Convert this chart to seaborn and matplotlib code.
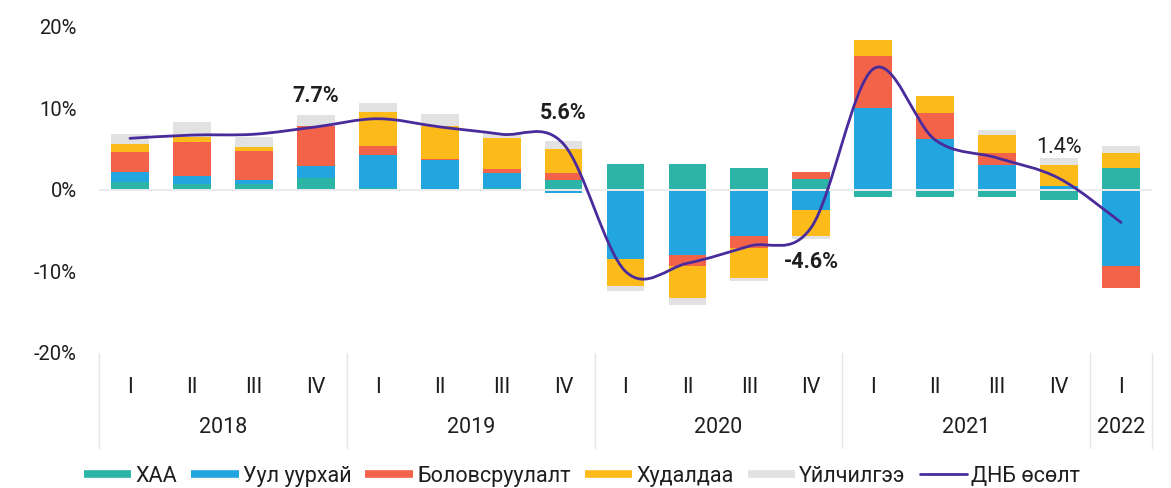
import numpy as np
import seaborn as sns
import matplotlib.pyplot as plt
from matplotlib.path import Path
from matplotlib.patches import PathPatch
from matplotlib.lines import Line2D
from matplotlib.transforms import blended_transform_factory

# ---------------------------------------------------------------------
# Data (% contribution to GDP growth)
# ---------------------------------------------------------------------
quarters = ["I", "II", "III", "IV"] * 4 + ["I"]
years = ["2018", "2019", "2020", "2021", "2022"]
year_len = [4, 4, 4, 4, 1]

agri = [1.0, 0.7, 0.7, 1.5, 0.2, 0.1, 0.2, 1.2, 3.1, 3.1, 2.7, 1.3, -0.9, -0.9, -0.9, -1.3, 2.7]
mining = [1.15, 0.95, 0.55, 1.35, 4.1, 3.5, 1.8, -0.45, -8.45, -8.0, -5.7, -2.5, 10.0, 6.25, 3.0, 0.5, -9.4]
manuf = [2.5, 4.2, 3.45, 4.9, 1.1, 0.2, 0.5, 0.9, 0.1, -1.3, -1.4, 0.9, 6.4, 3.2, 1.55, 0.0, -2.6]
trade = [1.0, 0.6, 0.55, 0.1, 4.1, 4.0, 3.9, 2.9, -3.4, -3.95, -3.7, -3.15, 1.9, 2.05, 2.15, 2.5, 1.85]
services = [1.2, 1.85, 1.25, 1.3, 1.1, 1.45, 0.6, 1.0, -0.55, -0.85, -0.4, -0.35, 0.0, 0.0, 0.6, 0.9, 0.85]
gdp = [6.3, 6.7, 6.8, 7.7, 8.7, 7.7, 6.8, 5.6, -10.0, -9.0, -6.9, -4.6, 14.8, 6.1, 3.9, 1.4, -4.0]

series_names = ["ХАА", "Уул уурхай", "Боловсруулалт", "Худалдаа", "Үйлчилгээ"]
series_vals = [agri, mining, manuf, trade, services]
series_colors = ["#2cb5a6", "#23a6e0", "#f3634a", "#fcba1b", "#e2e2e2"]
line_name = "ДНБ өсөлт"
line_color = "#4a2b9b"

label_idx = [3, 7, 11, 15]
label_txt = ["7.7%", "5.6%", "-4.6%", "1.4%"]

# ---------------------------------------------------------------------
# Plot
# ---------------------------------------------------------------------
sns.set_theme(style="white")
plt.rcParams["font.family"] = ["Roboto", "DejaVu Sans"]
TXT = "#1e1e1e"

fig = plt.figure(figsize=(11.71, 4.88), dpi=100)
ax = fig.add_axes([99 / 1171, 1 - 353 / 488, (1152 - 99) / 1171, (353 - 26.5) / 488])

n = len(quarters)
x = np.arange(n)
pos_base = np.zeros(n)
neg_base = np.zeros(n)
for name, vals, col in zip(series_names, series_vals, series_colors):
    v = np.array(vals)
    b = np.where(v >= 0, pos_base, neg_base)
    ax.bar(x, v, bottom=b, width=0.61, color=col, linewidth=0, zorder=2)
    pos_base += np.where(v > 0, v, 0)
    neg_base += np.where(v < 0, v, 0)

ax.axhline(0, color="#ececec", lw=1.4, zorder=3)

# smoothed GDP line (Bezier through the data points, like Excel)
y = np.array(gdp, dtype=float)
xf = x.astype(float)
xp = np.r_[xf[0], xf, xf[-1]]
yp = np.r_[y[0], y, y[-1]]
verts = [(xf[0], y[0])]
codes = [Path.MOVETO]
for i in range(n - 1):
    c1 = (xf[i] + (xp[i + 2] - xp[i]) / 6, y[i] + (yp[i + 2] - yp[i]) / 6)
    c2 = (xf[i + 1] - (xp[i + 3] - xp[i + 1]) / 6, y[i + 1] - (yp[i + 3] - yp[i + 1]) / 6)
    verts += [c1, c2, (xf[i + 1], y[i + 1])]
    codes += [Path.CURVE4] * 3
ax.add_patch(PathPatch(Path(verts, codes), facecolor="none", edgecolor=line_color,
                       lw=2.0, zorder=4, capstyle="round"))

for i, t in zip(label_idx, label_txt):
    up = gdp[i] > 0
    ax.annotate(t, (i, gdp[i]), xytext=(0, 22 if up else -25), textcoords="offset points",
                ha="center", va="center", fontsize=15.5, color=TXT,
                fontweight="normal" if i == 15 else "bold")

ax.set_xlim(-0.5, n - 0.5)
ax.set_ylim(-20, 20)
ax.set_yticks([-20, -10, 0, 10, 20])
ax.set_yticklabels([f"{v}%" for v in [-20, -10, 0, 10, 20]])
ax.set_xticks(x)
ax.set_xticklabels(quarters)
ax.tick_params(axis="y", length=0, pad=16, labelsize=14.5, labelcolor=TXT)
ax.tick_params(axis="x", length=0, pad=17, labelsize=15.5, labelcolor=TXT)
for s in ax.spines.values():
    s.set_visible(False)

# year labels and group separators below the quarter labels
trans = blended_transform_factory(ax.transData, ax.transAxes)
starts = np.r_[0, np.cumsum(year_len)[:-1]]
for yr, st, ln in zip(years, starts, year_len):
    ax.text(st + (ln - 1) / 2, -0.2297, yr, transform=trans, ha="center", va="center",
            fontsize=15.5, color=TXT)
for b in np.r_[starts, n] - 0.5:
    ax.plot([b, b], [0, -0.29], transform=trans, color="#e6e6e6", lw=1, clip_on=False)

# legend
handles = [Line2D([], [], color=c, lw=5.5, solid_capstyle="butt") for c in series_colors]
handles.append(Line2D([], [], color=line_color, lw=2))
fig.legend(handles, series_names + [line_name], loc="center", bbox_to_anchor=(0.497, 0.024),
           ncol=6, frameon=False, fontsize=15.5, handlelength=2.2, handletextpad=0.2,
           columnspacing=0.65, labelcolor=TXT)

fig.savefig("out.png", dpi=100)
